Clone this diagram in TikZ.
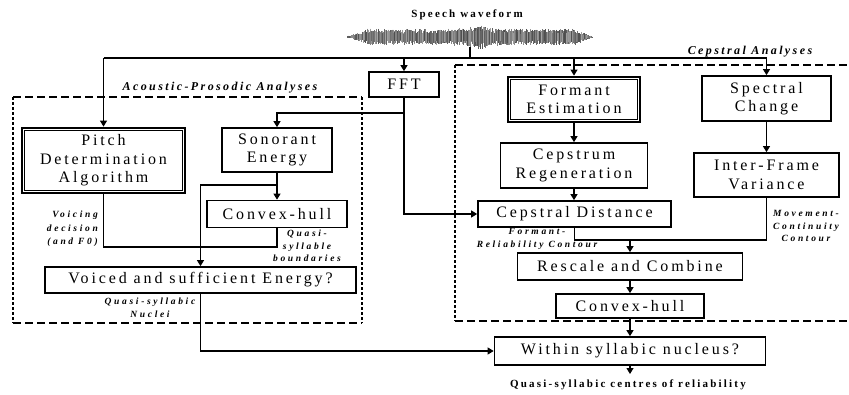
\documentclass[tikz,border=0pt]{standalone}
\usepackage{fontspec}
\setmainfont{Liberation Serif}
\newfontfamily\boxfont[LetterSpace=18]{Liberation Serif}
\newfontfamily\tagfont[LetterSpace=20]{Liberation Serif}
\newfontfamily\notefont[LetterSpace=28]{Liberation Serif}
\usetikzlibrary{arrows.meta,calc}

\begin{document}
\begin{tikzpicture}[x=1pt,y=-1pt,
  box/.style={draw, line width=1.7pt, rectangle, inner sep=0pt, align=center,
    font=\boxfont\fontsize{16}{18.5}\selectfont},
  heavybox/.style={box, line width=2.8pt},
  inner rim/.style={line width=1.1pt},
  link/.style={line width=1.1pt},
  feed/.style={link, -{Triangle[length=6pt,width=7pt]}},
  note/.style={font=\notefont\bfseries\itshape\fontsize{9.5}{12.5}\selectfont,
    align=center, inner sep=0pt},
  region/.style={font=\tagfont\bfseries\itshape\fontsize{12}{14}\selectfont, inner sep=0pt},
  caption/.style={font=\tagfont\bfseries\fontsize{11}{13}\selectfont, inner sep=0pt},
  hdash/.style={line width=1.4pt, dash pattern=on 8pt off 4pt},
  vdash/.style={line width=1.6pt, dash pattern=on 3pt off 2pt}
]
\useasboundingbox (0,0) rectangle (849,394);

% speech waveform
\pgfmathsetseed{42}
\draw[black!55, line width=0.6pt] (347,37) -- (593,37);
\foreach \i in {0,...,490}{
  \pgfmathsetmacro{\xx}{347+\i*0.5}
  \pgfmathsetmacro{\env}{(\xx<365)?(1+(\xx-347)*0.3):((\xx<575)?(7+4/(1+((\xx-480)/8)^2)+1.5*rnd):(max(0.8,8*(593-\xx)/18)))}
  \pgfmathsetmacro{\up}{\env*(0.45+0.55*rnd)}
  \pgfmathsetmacro{\dn}{\env*(0.45+0.55*rnd)}
  \pgfmathsetmacro{\ink}{35+35*rnd}
  \draw[black!\ink, line width=0.35pt] (\xx,37-\up) -- (\xx,37+\dn);
}
\node[caption] (title) at (467,15) {Speech waveform};

% analysis regions
\draw[hdash] (13,97) -- (362,97);
\draw[hdash] (13,323) -- (362,323);
\draw[vdash] (13,97) -- (13,323);
\draw[vdash] (362,97) -- (362,323);
\node[region] (aplabel) at (220,88) {Acoustic-Prosodic Analyses};

\draw[hdash] (455,65) -- (849,65);
\draw[hdash] (455,321) -- (849,321);
\draw[vdash] (455,65) -- (455,321);
\node[region] (cplabel) at (750,52) {Cepstral Analyses};

% processing blocks
\node[heavybox, minimum width=163pt, minimum height=65pt] (pitch) at (103.5,160.5) {Pitch\\Determination\\Algorithm};
\draw[inner rim] ([shift={(3.9pt,-3.9pt)}]pitch.north west) rectangle ([shift={(-3.9pt,3.9pt)}]pitch.south east);
\node[box, minimum width=110pt, minimum height=44pt] (sono) at (277,150) {Sonorant\\Energy};
\node[box, minimum width=140pt, minimum height=27pt] (hullA) at (277,214) {Convex-hull};
\node[box, minimum width=311pt, minimum height=26pt] (voiced) at (200.5,280) {Voiced and sufficient Energy?};
\node[box, minimum width=70pt, minimum height=25pt] (fft) at (404,84.5) {FFT};
\node[heavybox, minimum width=132pt, minimum height=45pt] (formant) at (574,99.5) {Formant\\Estimation};
\draw[inner rim] ([shift={(3.9pt,-3.9pt)}]formant.north west) rectangle ([shift={(-3.9pt,3.9pt)}]formant.south east);
\node[box, minimum width=129pt, minimum height=45pt] (spec) at (766.5,98.5) {Spectral\\Change};
\node[box, minimum width=147pt, minimum height=45pt] (ceprg) at (574,165.5) {Cepstrum\\Regeneration};
\node[box, minimum width=145pt, minimum height=44pt] (inter) at (766.5,175) {Inter-Frame\\Variance};
\node[box, minimum width=193pt, minimum height=26pt] (cdist) at (574.5,214) {Cepstral Distance};
\node[box, minimum width=225pt, minimum height=27pt] (resc) at (630,266.5) {Rescale and Combine};
\node[box, minimum width=148pt, minimum height=24pt] (hullB) at (630,306) {Convex-hull};
\node[box, minimum width=271pt, minimum height=28pt] (within) at (630,351) {Within syllabic nucleus?};

% junction points
\coordinate (tap) at (470,47);
\coordinate (bus) at (470,58);
\coordinate (fftsplit) at (404,113);
\coordinate (enbranch) at (277,185);
\coordinate (vjoin) at (103.5,247);
\coordinate (merge) at (630,240);
\coordinate (result) at (630,374);

% connectors
\draw[link] (tap) -- (bus);
\draw[link] (pitch.north |- bus) -- (spec.north |- bus);
\draw[feed] (pitch.north |- bus) -- (pitch.north);
\draw[feed] (fft.north |- bus) -- (fft.north);
\draw[feed] (formant.north |- bus) -- (formant.north);
\draw[feed] (spec.north |- bus) -- (spec.north);

\draw[feed] (fft.south) |- (cdist.west);
\draw[feed] (fftsplit) -| (sono.north);
\draw[feed] (sono.south) -- (hullA.north);
\draw[feed] (enbranch) -| (voiced.north);
\draw[link] (pitch.south) -- (vjoin) -| (hullA.south);
\draw[feed] (voiced.south) |- (within.west);

\draw[feed] (formant.south) -- (formant.south |- ceprg.north);
\draw[feed] (ceprg.south) -- (ceprg.south |- cdist.north);
\draw[feed] (spec.south) -- (inter.north);
\draw[link] (cdist.south) |- (inter.south |- merge) -- (inter.south);
\draw[feed] (merge) -- (resc.north);
\draw[feed] (resc.south) -- (hullB.north);
\draw[feed] (hullB.south) -- (within.north);
\draw[feed] (within.south) -- (result);

% signal annotations
\node[note, align=right, anchor=east, font=\notefont\bfseries\itshape\fontsize{9.5}{13.5}\selectfont] (voicing) at (98,229) {Voicing\\decision\\(and F0)};
\node[note] (qsb) at (307,246) {Quasi-\\syllable\\boundaries};
\node[note] (nuclei) at (150,308) {Quasi-syllabic\\Nuclei};
\node[note] (frc) at (537,239) {Formant-\\Reliability Contour};
\node[note] (mcc) at (806,226) {Movement-\\Continuity\\Contour};
\node[caption] (outcome) at (628,385) {Quasi-syllabic centres of reliability};
\end{tikzpicture}
\end{document}
